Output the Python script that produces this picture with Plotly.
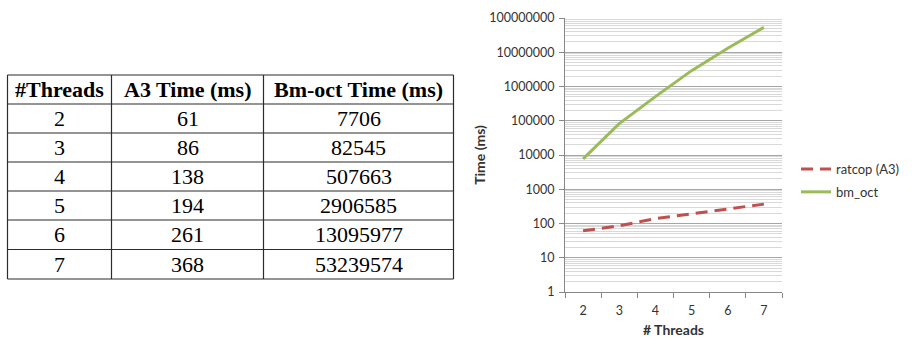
import plotly.graph_objects as go

threads = [2, 3, 4, 5, 6, 7]
a3_time = [61, 86, 138, 194, 261, 368]
bm_oct_time = [7706, 82545, 507663, 2906585, 13095977, 53239574]
table_headers = ["#Threads", "A3 Time (ms)", "Bm-oct Time (ms)"]
series_names = ["ratcop (A3)", "bm_oct"]
y_tick_vals = [1, 10, 100, 1000, 10000, 100000, 1000000, 10000000, 100000000]
y_tick_text = [str(v) for v in y_tick_vals]

W, H = 912, 338
fig = go.Figure()

# ---- table drawn with shapes + annotations (pixel layout) ----
col_edges = [7.5, 111.5, 263.5, 453.5]
row_edges = [75, 104, 133, 162, 191, 220, 249.5, 279]
table_cols = [[str(t) for t in threads], [str(v) for v in a3_time], [str(v) for v in bm_oct_time]]


def px(x):
    return x / W


def py(y):
    return 1 - y / H


line_style = dict(color="#2b2b2b", width=1.2)
for xe in col_edges:
    fig.add_shape(type="line", xref="paper", yref="paper",
                  x0=px(xe), x1=px(xe), y0=py(row_edges[0]), y1=py(row_edges[-1]), line=line_style)
for ye in row_edges:
    fig.add_shape(type="line", xref="paper", yref="paper",
                  x0=px(col_edges[0]), x1=px(col_edges[-1]), y0=py(ye), y1=py(ye), line=line_style)

for ci, head in enumerate(table_headers):
    xc = (col_edges[ci] + col_edges[ci + 1]) / 2
    yc = (row_edges[0] + row_edges[1]) / 2
    fig.add_annotation(xref="paper", yref="paper", x=px(xc), y=py(yc), text="<b>%s</b>" % head,
                       showarrow=False, xanchor="center", yanchor="middle",
                       font=dict(family="Liberation Serif", size=22, color="black"))
    for ri, val in enumerate(table_cols[ci]):
        yc = (row_edges[ri + 1] + row_edges[ri + 2]) / 2
        fig.add_annotation(xref="paper", yref="paper", x=px(xc), y=py(yc), text=val,
                           showarrow=False, xanchor="center", yanchor="middle",
                           font=dict(family="Liberation Serif", size=22, color="black"))

# ---- chart ----
xcats = [str(t) for t in threads]
fig.add_trace(go.Scatter(
    x=xcats, y=a3_time, name=series_names[0], mode="lines", legendgroup="a",
    line=dict(color="#C0504D", width=3, dash="12px,7px"),
))
fig.add_trace(go.Scatter(
    x=xcats, y=bm_oct_time, name=series_names[1], mode="lines", legendgroup="b",
    line=dict(color="#9BBB59", width=3),
))

minor_vals = [m * 10 ** k for k in range(0, 8) for m in range(2, 10)]

fig.update_layout(
    width=W, height=H,
    margin=dict(l=0, r=0, t=0, b=0, autoexpand=False),
    paper_bgcolor="white", plot_bgcolor="white",
    font=dict(family="Lato, Liberation Sans, sans-serif", size=12, color="#333333"),
    showlegend=True,
    legend=dict(x=796 / W, y=1 - 154 / H, xanchor="left", yanchor="top",
                font=dict(size=13, color="#333333"), bgcolor="rgba(0,0,0,0)",
                tracegroupgap=3),
    xaxis=dict(
        domain=[565 / W, 782 / W], type="category", range=[-0.5, 5.5], automargin=False,
        tickson="boundaries", ticks="outside", ticklen=5, tickcolor="#888888",
        showline=True, linecolor="#888888", showgrid=False, zeroline=False,
        ticklabelstandoff=7,
        title=dict(text="<b># Threads</b>", font=dict(size=14, color="#333333"), standoff=9),
        tickfont=dict(size=12.5),
    ),
    yaxis=dict(
        domain=[1 - 292 / H, 1 - 18 / H], type="log", range=[0, 8], automargin=False,
        tickvals=y_tick_vals, ticktext=y_tick_text,
        showline=True, linecolor="#888888", ticks="outside", ticklen=5, tickcolor="#888888",
        showgrid=True, gridcolor="#A6A6A6", gridwidth=1, zeroline=False,
        ticklabelstandoff=2,
        minor=dict(tickvals=minor_vals, showgrid=True, gridcolor="#D9D9D9", gridwidth=1, ticks=""),
        title=dict(text="<b>Time (ms)</b>", font=dict(size=14, color="#333333"), standoff=0),
        tickfont=dict(size=12.5),
    ),
)

post_js = (
    "document.documentElement.style.margin='0';"
    "document.body.style.margin='0';"
    "document.body.style.overflow='hidden';"
    "var gd=document.getElementById('{plot_id}');"
    "gd.style.position='fixed';gd.style.top='0px';gd.style.left='0px';"
)

fig.write_html("out.html", config={"displayModeBar": False}, post_script=post_js)
